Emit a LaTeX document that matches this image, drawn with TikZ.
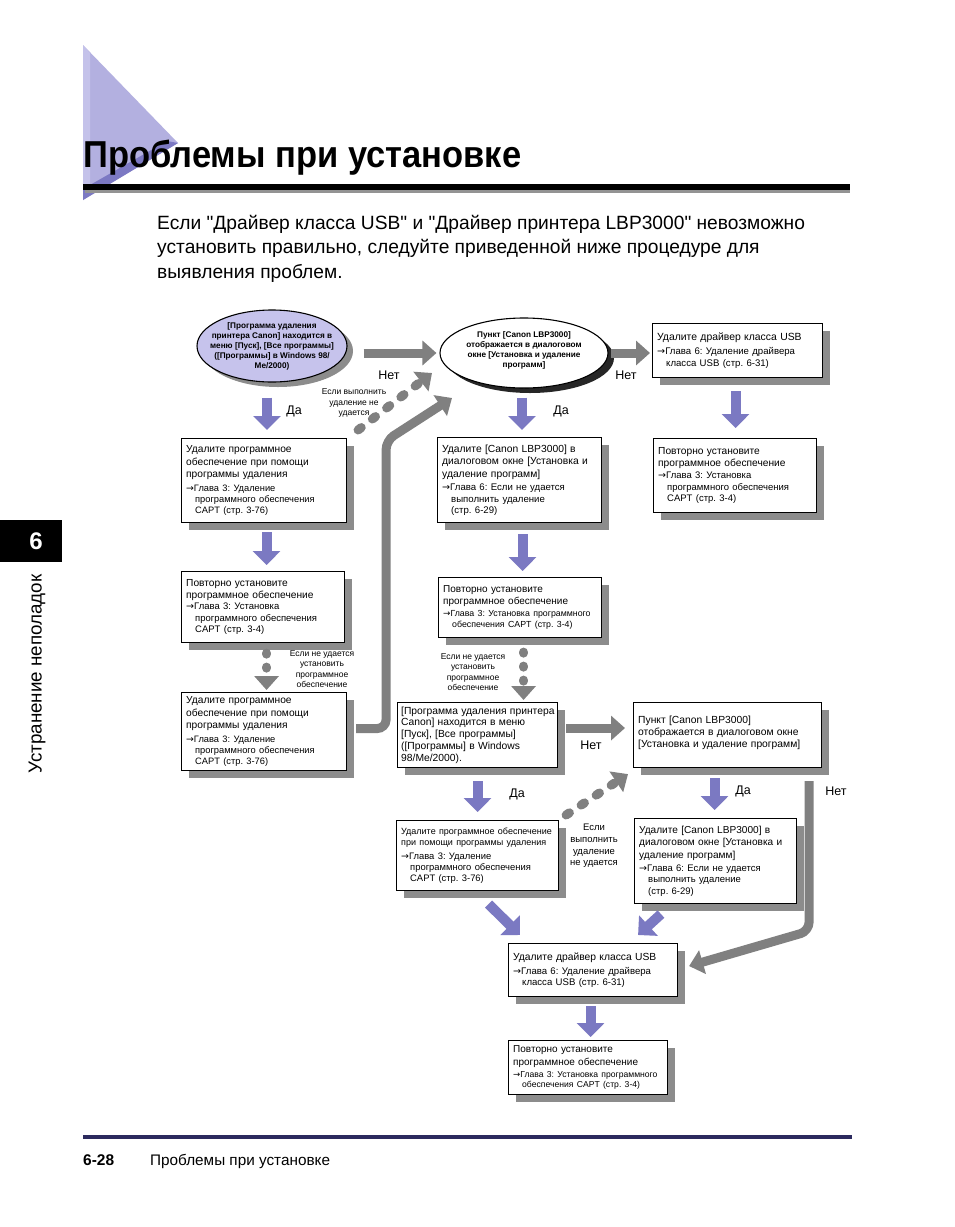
\documentclass[tikz,border=0pt]{standalone}
\usepackage{fontspec}
\setmainfont{Liberation Sans}
\newfontfamily\qfont{Liberation Sans}
\newfontfamily\arfont{DejaVu Sans}
\usepackage{graphicx}
\usetikzlibrary{shapes.geometric,arrows.meta,calc,shadows}
\setlength\parindent{0pt}
\frenchspacing
\definecolor{purp}{HTML}{7B79C2}
\definecolor{lav}{HTML}{C6C3EC}
\definecolor{triL}{HTML}{B3B0E0}
\definecolor{triLL}{HTML}{C4C2EA}
\definecolor{triD}{HTML}{7C79C3}
\definecolor{garr}{HTML}{808080}
\definecolor{shad}{HTML}{8C8C8C}
\definecolor{navy}{HTML}{2C2A5E}
\newcommand\fs[2]{\fontsize{#1pt}{#2pt}\selectfont}
\newcommand\ind{\hspace*{9pt}}
\newcommand\qq{{\qfont"}}
\newcommand\ar{{\arfont →}}
\begin{document}
\frenchspacing
\begin{tikzpicture}[x=1pt,y=-1pt,
  box/.style={draw, line width=1.1pt, fill=white, anchor=north west, inner sep=0pt,
    drop shadow={shadow xshift=7pt, shadow yshift=-7pt, fill=shad, opacity=1}},
  btxt/.style={anchor=west, inner sep=0pt, text width=260pt, align=left},
  ell/.style={ellipse, draw, line width=1.1pt, inner sep=0pt},
  etxt/.style={align=center, inner sep=0pt, font=\fs{8.2}{10}\bfseries},
  purpar/.style={draw=purp, line width=10pt, -{Triangle[width=27pt,length=14pt]}},
  grayar/.style={draw=garr, line width=9pt, -{Triangle[width=24pt,length=14pt]}},
  dashar/.style={grayar, line cap=round, dash pattern=on 4pt off 14pt},
  dotar/.style={grayar, line cap=round, dash pattern=on 1pt off 13pt},
  lbl/.style={font=\fs{12.5}{14}, inner sep=0pt},
  note/.style={font=\fs{8.5}{10.3}, align=center, inner sep=0pt}
]
\useasboundingbox (0,0) rectangle (954,1227);
\fill[white] (0,0) rectangle (954,1227);

% ---------- header ----------
\fill[triL] (83,45) -- (178,143) -- (83,200) -- cycle;
\fill[triLL] (83,45) -- (90,53) -- (90,195) -- (83,200) -- cycle;
\fill[triD] (178,143) -- (83,200) -- (83,189) -- (167,141) -- cycle;
\node[anchor=base west, inner sep=0pt] (title) at (83,167)
  {\scalebox{0.92}[1]{\fs{37.5}{40}\bfseries Проблемы при установке}};
\fill[black] (83,184) rectangle (850,190);
\fill[gray!85] (85,190) rectangle (850,193);

\node[anchor=base west, inner sep=0pt, font=\fs{19.2}{22}] (p1) at (157,229)
  {Если \qq Драйвер класса USB\qq{} и \qq Драйвер принтера LBP3000\qq{} невозможно};
\node[anchor=base west, inner sep=0pt, font=\fs{19.2}{22}] (p2) at (157,253)
  {установить правильно, следуйте приведенной ниже процедуре для};
\node[anchor=base west, inner sep=0pt, font=\fs{19.2}{22}] (p3) at (157,278)
  {выявления проблем.};

% ---------- side tab ----------
\fill[black] (0,520) rectangle (62,562);
\node[text=white, font=\fs{24}{26}\bfseries, inner sep=0pt] (tab) at (36,541) {6};
\node[rotate=90, font=\fs{18.8}{20}, inner sep=0pt] (side) at (37,674) {Устранение неполадок};

% ---------- footer ----------
\fill[navy] (83,1135) rectangle (852,1139);
\node[anchor=base west, inner sep=0pt, font=\fs{15.5}{18}\bfseries] (pg) at (83,1165) {6-28};
\node[anchor=base west, inner sep=0pt, font=\fs{15.3}{18}] (ft) at (150,1165) {Проблемы при установке};

% ---------- ellipses ----------
\node[ell, fill=lav, minimum width=150pt, minimum height=72pt,
  drop shadow={shadow xshift=6pt, shadow yshift=-5pt, fill=shad, opacity=1}] (E1) at (272,346) {};
\node[etxt] (E1t) at (E1.center) {[Программа удаления\\принтера Canon] находится в\\меню [Пуск], [Все программы]\\([Программы] в Windows 98/\\Me/2000)};

\node[ell, fill=white, minimum width=168pt, minimum height=70pt,
  drop shadow={shadow xshift=6pt, shadow yshift=-5pt, fill=black!85, opacity=1}] (E2) at (524,353) {};
\node[etxt] (E2t) at ($(E2.center)+(0,-3)$) {Пункт [Canon LBP3000]\\отображается в диалоговом\\окне [Установка и удаление\\программ]};

% ---------- boxes ----------
\node[box, minimum width=170pt, minimum height=54pt] (R1) at (652,323) {};
\node[btxt] (R1t) at ($(R1.west)+(5,0)$) {\fs{10.4}{12.5}Удалите драйвер класса USB\par\vspace{3pt}\fs{9.6}{11.2}\ar Глава 6: Удаление драйвера\\\ind класса USB (стр. 6-31)\par};

\node[box, minimum width=165pt, minimum height=84pt] (L1) at (181,438) {};
\node[btxt] (L1t) at ($(L1.west)+(5,0)$) {\fs{10.2}{12.4}Удалите программное\\обеспечение при помощи\\программы удаления\par\vspace{2.5pt}\fs{9.3}{11.2}\ar Глава 3: Удаление\\\ind программного обеспечения\\\ind CAPT (стр. 3-76)\par};

\node[box, minimum width=164pt, minimum height=85pt] (M1) at (437,437) {};
\node[btxt] (M1t) at ($(M1.west)+(5,0)$) {\fs{10.3}{12.4}Удалите [Canon LBP3000] в\\диалоговом окне [Установка и\\удаление программ]\par\vspace{2.5pt}\fs{9.6}{11.2}\ar Глава 6: Если не удается\\\ind выполнить удаление\\\ind (стр. 6-29)\par};

\node[box, minimum width=163pt, minimum height=74pt] (R2) at (653,438) {};
\node[btxt] (R2t) at ($(R2.west)+(5,0)$) {\fs{10.2}{11.8}Повторно установите\\программное обеспечение\par\vspace{1pt}\fs{9.5}{11.2}\ar Глава 3: Установка\\\ind программного обеспечения\\\ind CAPT (стр. 3-4)\par};

\node[box, minimum width=163pt, minimum height=71pt] (L2) at (181,571) {};
\node[btxt] (L2t) at ($(L2.west)+(5,0)$) {\fs{10.2}{11.8}Повторно установите\\программное обеспечение\par\fs{9.5}{11.3}\ar Глава 3: Установка\\\ind программного обеспечения\\\ind CAPT (стр. 3-4)\par};

\node[box, minimum width=163pt, minimum height=60pt] (M2) at (438,577) {};
\node[btxt] (M2t) at ($(M2.west)+(5,0)$) {\fs{10}{12.2}Повторно установите\\программное обеспечение\par\vspace{1.5pt}\fs{8.8}{10.5}\ar Глава 3: Установка программного\\\ind обеспечения CAPT (стр. 3-4)\par};

\node[box, minimum width=165pt, minimum height=78pt] (L3) at (181,692) {};
\node[btxt] (L3t) at ($(L3.west)+(5,0)$) {\fs{10.2}{12.4}Удалите программное\\обеспечение при помощи\\программы удаления\par\vspace{2.5pt}\fs{9.3}{11.2}\ar Глава 3: Удаление\\\ind программного обеспечения\\\ind CAPT (стр. 3-76)\par};

\node[box, minimum width=160pt, minimum height=65pt] (M3) at (397,702) {};
\node[btxt] (M3t) at ($(M3.west)+(4,0)$) {\fs{10.3}{11.8}[Программа удаления принтера\\Canon] находится в меню\\{}[Пуск], [Все программы]\\([Программы] в Windows\\98/Me/2000).\par};

\node[box, minimum width=188pt, minimum height=65pt] (M4) at (633,702) {};
\node[btxt] (M4t) at ($(M4.west)+(5,-2)$) {\fs{10.3}{12.2}Пункт [Canon LBP3000]\\отображается в диалоговом окне\\{}[Установка и удаление программ]\par};

\node[box, minimum width=162pt, minimum height=70pt] (M5) at (396,820) {};
\node[btxt] (M5t) at ($(M5.west)+(5,0)$) {\fs{9.0}{11.5}Удалите программное обеспечение\\при помощи программы удаления\par\vspace{2.5pt}\fs{9.4}{11.2}\ar Глава 3: Удаление\\\ind программного обеспечения\\\ind CAPT (стр. 3-76)\par};

\node[box, minimum width=162pt, minimum height=85pt] (M6) at (634,818) {};
\node[btxt] (M6t) at ($(M6.west)+(5,0)$) {\fs{10.1}{12.4}Удалите [Canon LBP3000] в\\диалоговом окне [Установка и\\удаление программ]\par\vspace{2.5pt}\fs{9.5}{11.2}\ar Глава 6: Если не удается\\\ind выполнить удаление\\\ind (стр. 6-29)\par};

\node[box, minimum width=169pt, minimum height=53pt] (B1) at (508,943) {};
\node[btxt] (B1t) at ($(B1.west)+(5,0)$) {\fs{10.3}{12.4}Удалите драйвер класса USB\par\vspace{2.5pt}\fs{9.6}{11.2}\ar Глава 6: Удаление драйвера\\\ind класса USB (стр. 6-31)\par};

\node[box, minimum width=159pt, minimum height=54pt] (B2) at (508,1040) {};
\node[btxt] (B2t) at ($(B2.west)+(5,0)$) {\fs{10}{12.4}Повторно установите\\программное обеспечение\par\vspace{1.5pt}\fs{8.6}{10.3}\ar Глава 3: Установка программного\\\ind обеспечения CAPT (стр. 3-4)\par};

% ---------- purple arrows ----------
\draw[purpar, shorten >=8pt] ($(E1.south)+(-5,15)$) -- ($(E1.south |- L1.north)+(-5,0)$);
\draw[purpar, shorten >=7pt] ($(E2.south)+(-2,9)$) -- ($(E2.south |- M1.north)+(-2,0)$);
\draw[purpar, shorten >=10pt] ($(R1.south)+(-2,13)$) -- ($(R1.south |- R2.north)+(-2,0)$);
\draw[purpar, shorten >=6pt] ($(L1.south)+(2.5,9)$) -- ($(L1.south |- L2.north)+(2.5,0)$);
\draw[purpar, shorten >=6pt] ($(M1.south)+(3,11)$) -- ($(M1.south |- M2.north)+(3,0)$);
\draw[purpar, shorten >=8pt] ($(M3.south)+(0,13)$) -- (M3.south |- M5.north);
\draw[purpar, shorten >=8pt] ($(M4.south)+(-13,10)$) -- ($(M4.south |- M6.north)+(-13,0)$);
\draw[purpar, shorten >=3pt] ($(B1.south)+(-2.5,9)$) -- ($(B1.south |- B2.north)+(-2.5,0)$);
\draw[purpar] ($(M5.south)+(11,13)$) -- ($(B1.north west)+(12,-8)$);
\draw[purpar] ($(M6.south west)+(27,10)$) -- ($(B1.north east)+(-40,-8)$);

% ---------- gray arrows ----------
\draw[grayar] ($(E1.east |- E2.west)+(16,0)$) -- ($(E2.west)+(-3,0)$);
\draw[grayar] ($(E2.east)+(2,0)$) -- ($(E2.east -| R1.west)+(-2,0)$);
\draw[grayar, shorten >=8pt] ($(M3.east)+(8,-7)$) -- ($(M3.east -| M4.west)+(0,-7)$);
\coordinate (c1) at ($(L3.east)+(39,-3)$);
\coordinate (c2) at ($(L3.east)+(39,-291)$);
\draw[grayar, rounded corners=9pt] ($(L3.east)+(9,-3)$) -- (c1) -- (c2) -- ($(E2.center)+(-72,45)$);
\coordinate (c3) at ($(M4.south east)+(-13,163)$);
\draw[grayar, rounded corners=9pt] ($(M4.south east)+(-13,13)$) -- (c3) -- ($(B1.east)+(11,-4)$);
\draw[dashar] ($(L1.north east)+(11,-8)$) -- ($(E2.center)+(-92,20)$);
\draw[dashar] ($(M5.north east)+(7,-5)$) -- ($(M4.south west)+(-5,6)$);
\draw[dotar, shorten >=2pt] ($(L2.south)+(3.5,10)$) -- ($(L2.south |- L3.north)+(3.5,0)$);
\draw[dotar, shorten >=2pt] ($(M2.south)+(3.5,14)$) -- ($(M2.south |- M3.north)+(3.5,0)$);

% ---------- labels ----------
\node[lbl] (n1) at (389,375) {Нет};
\node[lbl] (n2) at (626,375) {Нет};
\node[lbl] (d1) at (294,411) {Да};
\node[lbl] (d2) at (561,411) {Да};
\node[note] (t1) at (354,403) {Если выполнить\\удаление не\\удается};
\node[note] (t2) at (322,669) {Если не удается\\установить\\программное\\обеспечение};
\node[note] (t3) at (473,672) {Если не удается\\установить\\программное\\обеспечение};
\node[lbl] (n3) at (591,745) {Нет};
\node[lbl] (d3) at (517,794) {Да};
\node[lbl] (d4) at (743,791) {Да};
\node[lbl] (n4) at (836,791) {Нет};
\node[note, font=\fs{9.5}{11.8}] (t4) at (594,846) {Если\\выполнить\\удаление\\не удается};
\end{tikzpicture}
\end{document}
